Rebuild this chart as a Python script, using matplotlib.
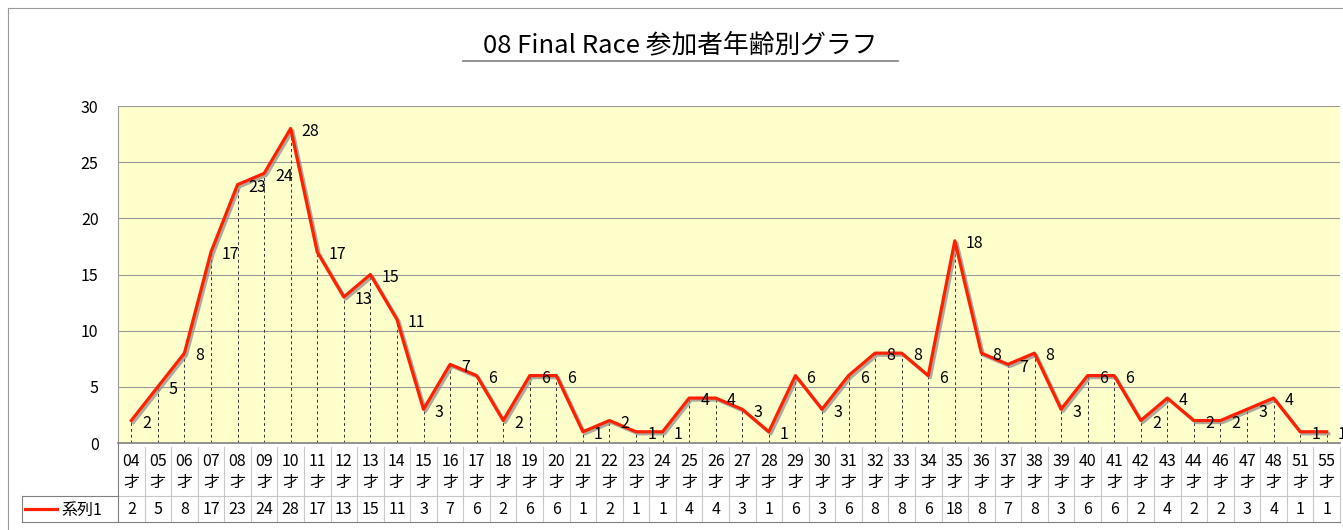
import numpy as np
import matplotlib
matplotlib.use('Agg')
import matplotlib.pyplot as plt
import matplotlib.patheffects as pe
from matplotlib.lines import Line2D

plt.rcParams['font.family'] = ['Noto Sans CJK JP', 'DejaVu Sans']

# ages (categories) and number of participants
ages = ['04', '05', '06', '07', '08', '09', '10', '11', '12', '13', '14', '15',
        '16', '17', '18', '19', '20', '21', '22', '23', '24', '25', '26', '27',
        '28', '29', '30', '31', '32', '33', '34', '35', '36', '37', '38', '39',
        '40', '41', '42', '43', '44', '46', '47', '48', '51', '55']
counts = [2, 5, 8, 17, 23, 24, 28, 17, 13, 15, 11, 3,
          7, 6, 2, 6, 6, 1, 2, 1, 1, 4, 4, 3,
          1, 6, 3, 6, 8, 8, 6, 18, 8, 7, 8, 3,
          6, 6, 2, 4, 2, 2, 3, 4, 1, 1]
series_name = '系列1'
title = '08 Final Race 参加者年齢別グラフ'

W, H = 1343, 530
fig = plt.figure(figsize=(W / 100, H / 100), dpi=100)
fig.patch.set_facecolor('white')

# plot area in pixels
L, R, T, B = 118, 1340, 106, 443
ax = fig.add_axes([L / W, 1 - B / H, (R - L) / W, (B - T) / H])
ax.set_facecolor('#FFFFCC')

x = np.arange(len(ages))
line_red = '#FF2000'
fs = 11.5

ax.vlines(x, 0, counts, colors='#333333', linestyles=(0, (3, 3)), linewidth=0.7, zorder=2)
ax.plot(x, counts, color=line_red, linewidth=2.3, zorder=3,
        path_effects=[pe.SimpleLineShadow(offset=(1.5, -1.5), shadow_color='#888888', alpha=0.7),
                      pe.Normal()])

for xi, v in zip(x, counts):
    ax.annotate(str(v), (xi, v), xytext=(8, -2), textcoords='offset points',
                ha='left', va='center', fontsize=fs, color='black', zorder=4)

ax.set_xlim(-0.5, len(ages) - 0.5)
ax.set_ylim(0, 30)
ax.set_yticks(range(0, 31, 5))
ax.tick_params(axis='y', length=0, pad=14, labelsize=fs)
ax.set_xticks([])
ax.yaxis.grid(True, color='#9A9A9A', linewidth=0.8)
ax.set_axisbelow(True)
for s in ['top', 'right']:
    ax.spines[s].set_visible(False)
ax.spines['left'].set_color('#9A9A9A')
ax.spines['bottom'].set_color('#808080')
ax.spines['bottom'].set_linewidth(1.2)

# data table under the plot (axes coordinates in y)
ph = B - T
y_top = (B - 447) / ph
y_mid = (B - 496) / ph
y_bot = (B - 522) / ph
xt = ax.get_xaxis_transform()
grid_c = '#C8C8C8'
for b in np.arange(len(ages) + 1) - 0.5:
    ax.add_line(Line2D([b, b], [y_top if b > -0.5 else 0, y_bot], transform=xt,
                       color=grid_c if b > -0.5 else '#808080', linewidth=0.8, clip_on=False))
leg_left = -0.5 - (L - 22) / ((R - L) / len(ages))
ax.add_line(Line2D([-0.5, len(ages) - 0.5], [y_mid, y_mid], transform=xt,
                   color=grid_c, linewidth=0.8, clip_on=False))
ax.add_line(Line2D([leg_left, -0.5], [y_mid, y_mid], transform=xt,
                   color='#808080', linewidth=0.8, clip_on=False))
ax.add_line(Line2D([leg_left, len(ages) - 0.5], [y_bot, y_bot], transform=xt,
                   color='#808080', linewidth=0.8, clip_on=False))
ax.add_line(Line2D([leg_left, leg_left], [y_mid, y_bot], transform=xt,
                   color='#808080', linewidth=0.8, clip_on=False))

for xi, a, v in zip(x, ages, counts):
    ax.text(xi, (B - 462) / ph, a, transform=xt, ha='center', va='center', fontsize=fs)
    ax.text(xi, (B - 482) / ph, '才', transform=xt, ha='center', va='center', fontsize=fs)
    ax.text(xi, (B - 510) / ph, str(v), transform=xt, ha='center', va='center', fontsize=fs)

# legend key inside the table
ax.add_line(Line2D([leg_left + 0.12, leg_left + 1.3], [(B - 509) / ph] * 2, transform=xt,
                   color=line_red, linewidth=2.3, clip_on=False))
ax.text(leg_left + 1.5, (B - 510) / ph, series_name, transform=xt, ha='left', va='center',
        fontsize=fs)

# title with underline
fig.text(680 / W, 1 - 45 / H, title, ha='center', va='center', fontsize=18.5)
fig.add_artist(Line2D([463 / W, 898 / W], [1 - 61 / H] * 2, color='#808080', linewidth=1.2))

# outer chart frame (cut at right and bottom)
fig.add_artist(Line2D([8 / W, 8 / W], [0, 1 - 8 / H], color='#9A9A9A', linewidth=0.8))
fig.add_artist(Line2D([8 / W, 1], [1 - 8 / H] * 2, color='#9A9A9A', linewidth=0.8))

fig.savefig('out.png', dpi=100)
